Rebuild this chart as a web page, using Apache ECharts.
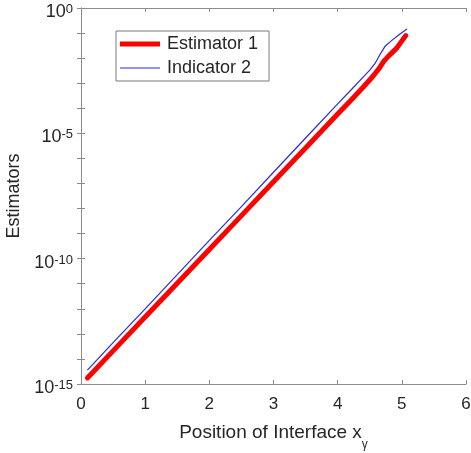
<!DOCTYPE html>
<html>
<head>
<meta charset="utf-8">
<script src="https://cdn.jsdelivr.net/npm/echarts@6/dist/echarts.min.js"></script>
<style>
html,body{margin:0;padding:0;background:#fff;}
#chart{width:471px;height:453px;}
</style>
</head>
<body>
<div id="chart"></div>
<script>
// ---- data ----
const estimatorX = [0.1, 0.5, 1, 1.5, 2, 2.5, 3, 3.5, 4, 4.2, 4.4, 4.55, 4.65, 4.72, 4.8, 4.92, 5.06];
const estimatorY = [1.74e-15, 2.1e-14, 4.7e-13, 1.05e-11, 2.3e-10, 5.2e-9, 1.17e-7, 2.6e-6, 5.9e-5, 2.0e-4, 7.1e-4, 1.9e-3, 4.0e-3, 7.6e-3, 1.26e-2, 2.5e-2, 7.9e-2];
const indicatorX = [0.1, 0.5, 1, 1.5, 2, 2.5, 3, 3.5, 4, 4.2, 4.4, 4.5, 4.58, 4.66, 4.74, 4.84, 4.95, 5.08];
const indicatorY = [3.6e-15, 4.5e-14, 1.0e-12, 2.3e-11, 5.4e-10, 1.2e-8, 2.8e-7, 6.5e-6, 1.5e-4, 5.1e-4, 1.8e-3, 3.3e-3, 6.0e-3, 1.4e-2, 3.0e-2, 5.0e-2, 8.3e-2, 1.45e-1];
const seriesNames = ['Estimator 1', 'Indicator 2'];
const xTicks = [0, 1, 2, 3, 4, 5, 6];
const yLabelExponents = [0, -5, -10, -15];

const FONT = 'Liberation Sans, Arial, sans-serif';
const AXIS_COLOR = '#8a8a8a';
const TEXT_COLOR = '#262626';
const RED = '#ff0000';
const BLUE = '#2a2ae0';

function pairs(xs, ys) { return xs.map((x, i) => [x, ys[i]]); }

const chart = echarts.init(document.getElementById('chart'), null, {renderer: 'canvas'});

const baseX = {
  type: 'value', min: xTicks[0], max: xTicks[xTicks.length - 1], interval: 1,
  axisLine: {show: true, lineStyle: {color: AXIS_COLOR, width: 1}},
  axisTick: {show: true, inside: true, length: 4, lineStyle: {color: AXIS_COLOR}},
  splitLine: {show: false}
};
const baseY = {
  type: 'log', logBase: 10, min: 1e-15, max: 1, interval: 1,
  axisLine: {show: true, lineStyle: {color: AXIS_COLOR, width: 1}},
  axisTick: {show: true, inside: true, length: 4, lineStyle: {color: AXIS_COLOR}},
  splitLine: {show: false},
  minorTick: {show: false}
};

const option = {
  animation: false,
  backgroundColor: '#ffffff',
  grid: {left: 81, right: 5, top: 8, bottom: 69, containLabel: false, outerBoundsMode: 'none'},
  legend: {
    orient: 'vertical', left: 116, top: 31,
    padding: [4, 11, 4, 4], itemGap: 6, itemWidth: 40, itemHeight: 18,
    symbolKeepAspect: true,
    borderColor: '#7a7a7a', borderWidth: 1, backgroundColor: '#ffffff',
    textStyle: {fontFamily: FONT, fontSize: 18, color: TEXT_COLOR, padding: [0, 0, 0, 2]},
    data: [
      {name: seriesNames[0], icon: 'path://M0,0L40,0L40,5L0,5Z', itemStyle: {color: RED}},
      {name: seriesNames[1], icon: 'path://M0,0L40,0L40,1.2L0,1.2Z', itemStyle: {color: BLUE}}
    ]
  },
  xAxis: [
    Object.assign({}, baseX, {
      position: 'bottom',
      axisLabel: {show: true, margin: 12, fontFamily: FONT, fontSize: 17, color: TEXT_COLOR},
      name: '{n|Position of Interface x}{s|γ}',
      nameLocation: 'middle', nameGap: 39,
      nameTextStyle: {
        fontFamily: FONT, color: TEXT_COLOR,
        rich: {
          n: {fontFamily: FONT, fontSize: 19, color: TEXT_COLOR, lineHeight: 20, verticalAlign: 'top'},
          s: {fontFamily: FONT, fontSize: 12, color: TEXT_COLOR, lineHeight: 28, verticalAlign: 'bottom'}
        }
      }
    }),
    Object.assign({}, baseX, {position: 'top', axisLabel: {show: false}})
  ],
  yAxis: [
    Object.assign({}, baseY, {
      position: 'left',
      axisLabel: {
        show: true, margin: 8, padding: [8, 0, 0, 0],
        formatter: function (v) {
          const e = Math.round(Math.log10(v));
          if (yLabelExponents.indexOf(e) < 0) return '';
          return '{b|10}{s|' + e + '}';
        },
        rich: {
          b: {fontFamily: FONT, fontSize: 18, color: TEXT_COLOR, lineHeight: 18, verticalAlign: 'bottom'},
          s: {fontFamily: FONT, fontSize: 13, color: TEXT_COLOR, lineHeight: 5, verticalAlign: 'top'}
        }
      },
      name: 'Estimators',
      nameLocation: 'middle', nameGap: 52, nameRotate: 90,
      nameTextStyle: {fontFamily: FONT, fontSize: 18, color: TEXT_COLOR}
    }),
    Object.assign({}, baseY, {position: 'right', axisLabel: {show: false}})
  ],
  series: [
    {
      name: seriesNames[0], type: 'line', xAxisIndex: 0, yAxisIndex: 0,
      data: pairs(estimatorX, estimatorY), showSymbol: false, symbol: 'none', smooth: false,
      lineStyle: {color: RED, width: 5, cap: 'round', join: 'round'},
      itemStyle: {color: RED}, z: 2
    },
    {
      name: seriesNames[1], type: 'line', xAxisIndex: 0, yAxisIndex: 0,
      data: pairs(indicatorX, indicatorY), showSymbol: false, symbol: 'none', smooth: false,
      lineStyle: {color: BLUE, width: 1.2},
      itemStyle: {color: BLUE}, z: 3
    }
  ]
};
chart.setOption(option);
</script>
</body>
</html>
